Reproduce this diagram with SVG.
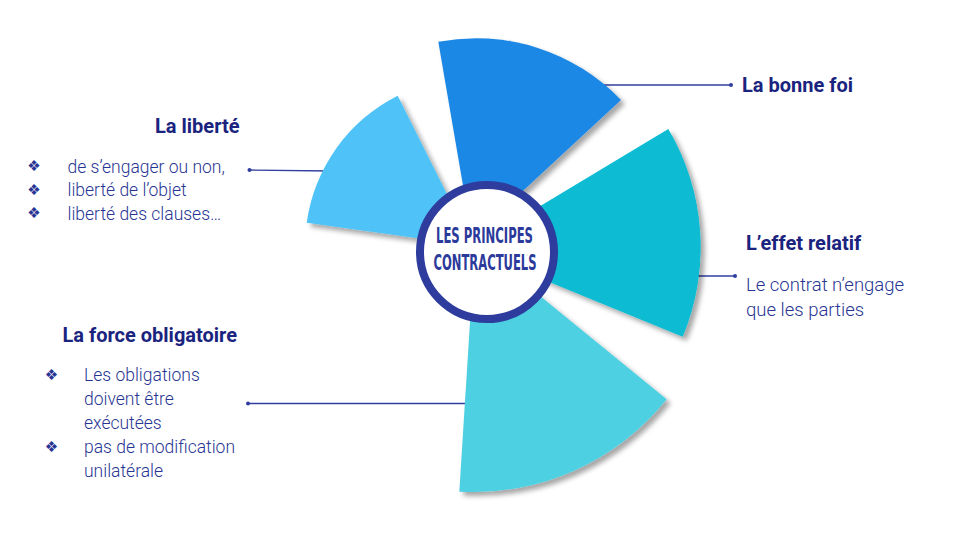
<svg xmlns="http://www.w3.org/2000/svg" width="960" height="540" viewBox="0 0 960 540">
<defs>
<filter id="sh" x="-20%" y="-20%" width="150%" height="150%">
<feDropShadow dx="4" dy="4" stdDeviation="2.5" flood-color="#000" flood-opacity="0.35"/>
</filter>
<style>
.h{font-family:Roboto,"Liberation Sans",sans-serif;font-weight:700;font-size:20px;fill:#1A237E}
.b{font-family:Roboto,"Liberation Sans",sans-serif;font-weight:300;font-size:17.5px;fill:#283593}
.bul{font-family:"DejaVu Sans",sans-serif;font-size:15px;fill:#283593;text-anchor:middle}
.ln{stroke:#303F9F;stroke-width:1.3;fill:none}
.dot{fill:#303F9F}
.ct{font-family:"DejaVu Sans Condensed","DejaVu Sans",sans-serif;font-stretch:condensed;font-weight:700;font-size:22px;fill:#2B3A9B}
</style>
</defs>
<rect width="960" height="540" fill="#fff"/>
<g id="connectors">
<line class="ln" x1="249.5" y1="170" x2="330" y2="171"/>
<circle class="dot" cx="249.5" cy="170" r="2"/>
<line class="ln" x1="600" y1="85" x2="731" y2="85"/>
<circle class="dot" cx="731" cy="85" r="2"/>
<line class="ln" x1="690" y1="276" x2="735" y2="276"/>
<circle class="dot" cx="735" cy="276" r="2"/>
<line class="ln" x1="248" y1="403.5" x2="470" y2="403.5"/>
<circle class="dot" cx="248" cy="403.5" r="2"/>
</g>
<g id="wedge-liberte">
<path d="M473 246 L306.7 222.7 A168 168 0 0 1 397.7 95.7 Z" fill="#4FC3F7" filter="url(#sh)"/>
</g>
<g id="wedge-bonne-foi">
<path d="M472 238 L438.3 41.7 A201 201 0 0 1 621 100 Z" fill="#1E88E5" filter="url(#sh)"/>
</g>
<g id="wedge-effet">
<path d="M469 249 L668.3 129 A232 232 0 0 1 682.7 336.7 Z" fill="#08BBD3" filter="url(#sh)"/>
</g>
<g id="wedge-force">
<path d="M475 243 L666.7 399.3 A248 248 0 0 1 459.3 491.7 Z" fill="#4DD0E1" filter="url(#sh)"/>
</g>
<g id="center">
<circle cx="487" cy="252" r="67" fill="#fff" stroke="#2E3D9D" stroke-width="8"/>
<text class="ct" x="436" y="243" textLength="97" lengthAdjust="spacingAndGlyphs">LES PRINCIPES</text>
<text class="ct" x="433.5" y="270" textLength="103" lengthAdjust="spacingAndGlyphs">CONTRACTUELS</text>
</g>
<g id="label-liberte">
<text class="h" x="155" y="132.5">La liberté</text>
<text class="bul" x="34" y="171">❖</text>
<text class="bul" x="34" y="194.5">❖</text>
<text class="bul" x="34" y="218">❖</text>
<text class="b" x="67.5" y="172.5">de s’engager ou non,</text>
<text class="b" x="67.5" y="196">liberté de l’objet</text>
<text class="b" x="67.5" y="219.5">liberté des clauses…</text>
</g>
<g id="label-bonne-foi">
<text class="h" x="742" y="91.5">La bonne foi</text>
</g>
<g id="label-effet">
<text class="h" x="746" y="250">L’effet relatif</text>
<text class="b" x="746" y="291" style="font-size:18.5px">Le contrat n’engage</text>
<text class="b" x="746" y="315.5" style="font-size:18.5px">que les parties</text>
</g>
<g id="label-force">
<text class="h" x="62.5" y="341.5">La force obligatoire</text>
<text class="bul" x="51.5" y="380">❖</text>
<text class="bul" x="51.5" y="452">❖</text>
<text class="b" x="84" y="381">Les obligations</text>
<text class="b" x="84" y="405">doivent être</text>
<text class="b" x="84" y="429">exécutées</text>
<text class="b" x="84" y="453">pas de modification</text>
<text class="b" x="84" y="477">unilatérale</text>
</g>
</svg>
